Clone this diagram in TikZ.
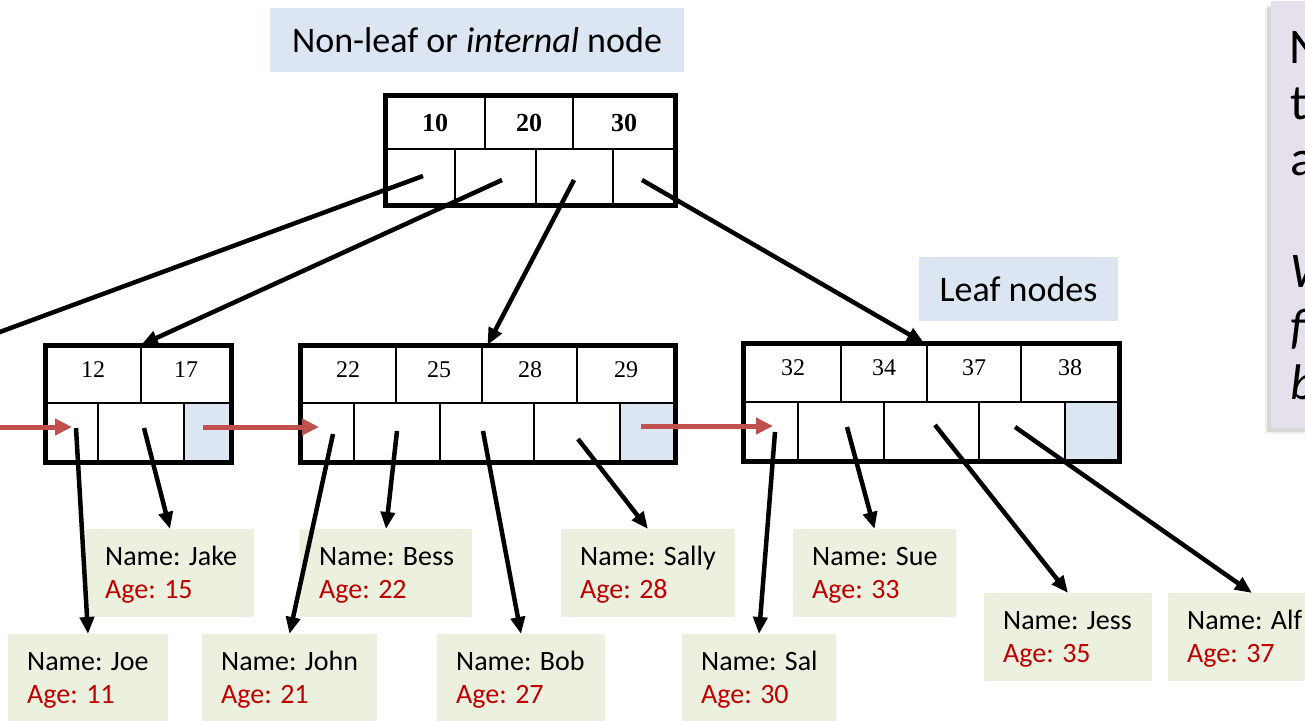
\documentclass[tikz,border=0pt]{standalone}
\usepackage{fontspec}
\setmainfont{Carlito}
\newfontfamily\numfont{Liberation Serif}
\usetikzlibrary{arrows.meta,calc}
\definecolor{lblue}{HTML}{DCE6F2}
\definecolor{lgreen}{HTML}{EBF1DE}
\definecolor{lpurple}{HTML}{E5E0EC}
\definecolor{agered}{HTML}{C00000}
\definecolor{linkred}{HTML}{C0504D}
\newcommand{\recbox}[7]{%
  \node[rec, minimum width=#4pt, minimum height=#5pt] (#1) at (#2,#3) {};
  \node[rectext] (#1n) at ($(#1.north west)+(19,36)$) {Name: #6};
  \node[rectext, text=agered] (#1a) at ($(#1.north west)+(19,69)$) {Age: #7};}
\begin{document}
\begin{tikzpicture}[x=1pt,y=-1pt,
  lbl/.style={fill=lblue, font=\fontsize{36}{40}\selectfont, inner sep=0pt, outer sep=0pt, anchor=north west},
  outer/.style={draw=black, line width=5pt, inner sep=0pt, outer sep=0pt, anchor=north west},
  grid/.style={line width=2pt},
  num/.style={font=\numfont\fontsize{24}{24}\selectfont, inner sep=0pt, anchor=base},
  bnum/.style={font=\numfont\bfseries\fontsize{26}{26}\selectfont, inner sep=0pt, anchor=base},
  rec/.style={fill=lgreen, inner sep=0pt, outer sep=0pt, anchor=north west},
  rectext/.style={font=\fontsize{28}{33}\selectfont, inner sep=0pt, anchor=base west},
  ptr/.style={line width=4.5pt, -{Triangle[length=17pt,width=14pt]}},
  link/.style={draw=linkred, line width=5pt, -{Triangle[length=17pt,width=16pt]}},
  big/.style={font=\fontsize{50}{56}\selectfont, inner sep=0pt, anchor=base west},
  bigit/.style={font=\fontsize{50}{56}\selectfont\itshape, inner sep=0pt, anchor=base west}
]
\useasboundingbox (0,0) rectangle (1305,720);
\fill[white] (0,0) rectangle (1305,720);
\clip (0,0) rectangle (1305,720);

% labels
\node[lbl, minimum width=414pt, minimum height=64pt] (lblint) at (270,8) {Non-leaf or \textit{internal} node};
\node[lbl, minimum width=199pt, minimum height=64pt] (lblleaf) at (919,257) {Leaf nodes};

% right note box
\fill[black, opacity=0.10] (1267,6) rectangle (1305,432);
\fill[black, opacity=0.06] (1265,8) rectangle (1305,434);
\node[fill=lpurple, inner sep=0pt, outer sep=0pt, anchor=north west, minimum width=60pt, minimum height=427pt] (note) at (1271,1) {};
\node[big] (n1) at (1289,63) {N};
\node[big] (n2) at (1290,119) {t};
\node[big] (n3) at (1290,175) {a};
\node[bigit] (n4) at (1290,287) {W};
\node[bigit] (n5) at (1290,343) {f};
\node[bigit] (n6) at (1290,399) {b};

% internal node
\draw[grid] (385,149) -- (675,149);
\draw[grid] (485,95) -- (485,149) (573,95) -- (573,149);
\draw[grid] (455,149) -- (455,205) (536,149) -- (536,205) (613,149) -- (613,205);
\node[outer, minimum width=290pt, minimum height=110pt] (int) at (385,95) {};
\node[bnum] (k10) at (435,131) {10};
\node[bnum] (k20) at (529,131) {20};
\node[bnum] (k30) at (624,131) {30};

% leaf 1
\fill[lblue] (184,403) rectangle (231,462);
\draw[grid] (45,403) -- (231,403);
\draw[grid] (141,345) -- (141,403);
\draw[grid] (98,403) -- (98,462) (184,403) -- (184,462);
\node[outer, minimum width=186pt, minimum height=117pt] (leaf1) at (45,345) {};
\node[num] (k12) at (93,377) {12};
\node[num] (k17) at (186,377) {17};

% leaf 2
\fill[lblue] (620,403) rectangle (675,462);
\draw[grid] (300,403) -- (675,403);
\draw[grid] (396,345) -- (396,403) (482,345) -- (482,403) (577,345) -- (577,403);
\draw[grid] (354,403) -- (354,462) (440,403) -- (440,462) (534,403) -- (534,462) (620,403) -- (620,462);
\node[outer, minimum width=375pt, minimum height=117pt] (leaf2) at (300,345) {};
\node[num] (k22) at (348,377) {22};
\node[num] (k25) at (439,377) {25};
\node[num] (k28) at (530,377) {28};
\node[num] (k29) at (626,377) {29};

% leaf 3
\fill[lblue] (1065,402) rectangle (1119,461);
\draw[grid] (743,402) -- (1119,402);
\draw[grid] (841,343) -- (841,402) (927,343) -- (927,402) (1021,343) -- (1021,402);
\draw[grid] (798,402) -- (798,461) (884,402) -- (884,461) (979,402) -- (979,461) (1065,402) -- (1065,461);
\node[outer, minimum width=376pt, minimum height=118pt] (leaf3) at (743,343) {};
\node[num] (k32) at (793,375) {32};
\node[num] (k34) at (884,375) {34};
\node[num] (k37) at (974,375) {37};
\node[num] (k38) at (1070,375) {38};

% records
\recbox{jake}{86}{529}{168}{88}{Jake}{15}
\recbox{bess}{300}{529}{172}{88}{Bess}{22}
\recbox{sally}{561}{529}{174}{88}{Sally}{28}
\recbox{sue}{793}{529}{163}{88}{Sue}{33}
\recbox{joe}{8}{634}{160}{88}{Joe}{11}
\recbox{john}{202}{634}{175}{88}{John}{21}
\recbox{bob}{437}{634}{168}{88}{Bob}{27}
\recbox{sal}{682}{634}{154}{88}{Sal}{30}
\recbox{jess}{984}{593}{168}{88}{Jess}{35}
\recbox{alf}{1168}{593}{168}{88}{Alf}{37}

% pointer start coordinates
\coordinate (i0) at (423,176);
\coordinate (i1) at (502,180);
\coordinate (i2) at (574,180);
\coordinate (i3) at (642,180);
\coordinate (leaf0) at (-30,343);
\coordinate (p1) at (76,428);
\coordinate (p2) at (144,428);
\coordinate (p3) at (333,434);
\coordinate (p4) at (397,431);
\coordinate (p5) at (483,431);
\coordinate (p6) at (578,439);
\coordinate (p7) at (775,432);
\coordinate (p8) at (847,427);
\coordinate (p9) at (935,425);
\coordinate (p10) at (1015,427);
\coordinate (r0) at (-10,427);
\coordinate (r1) at (72,427);
\coordinate (r2) at (203,427);
\coordinate (r3) at (319,427);
\coordinate (r4) at (641,426);
\coordinate (r5) at (773,426);

% internal pointers
\draw[line width=4.5pt] (i0) -- (leaf0);
\draw[ptr] (i1) -- ($(leaf1.north west)+(96,0)$);
\draw[ptr] (i2) -- (leaf2.north);
\draw[ptr] (i3) -- ($(leaf3.north west)+(181,0)$);

% sibling links
\draw[link] (r0) -- (r1);
\draw[link] (r2) -- (r3);
\draw[link] (r4) -- (r5);

% record pointers
\draw[ptr] (p1) -- (joe.north);
\draw[ptr] (p2) -- (jake.north);
\draw[ptr] (p3) -- (john.north);
\draw[ptr] (p4) -- (bess.north);
\draw[ptr] (p5) -- (bob.north);
\draw[ptr] (p6) -- (sally.north);
\draw[ptr] (p7) -- (sal.north);
\draw[ptr] (p8) -- (sue.north);
\draw[ptr] (p9) -- (jess.north);
\draw[ptr] (p10) -- (alf.north);
\end{tikzpicture}
\end{document}
